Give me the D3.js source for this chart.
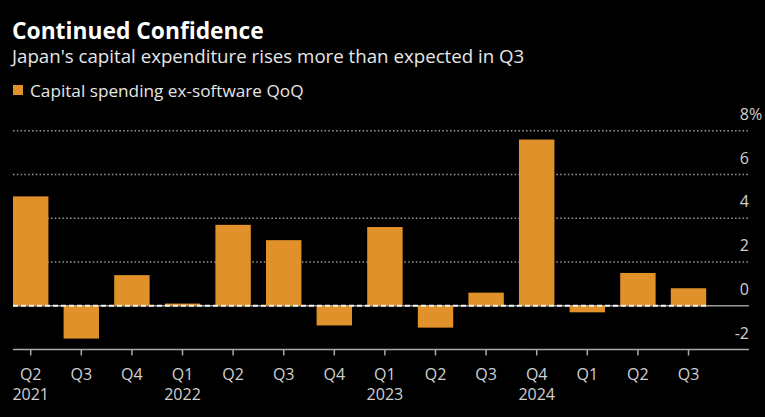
<!DOCTYPE html>
<html>
<head>
<meta charset="utf-8">
<script src="https://cdn.jsdelivr.net/npm/d3@7"></script>
<style>
  html, body { margin: 0; padding: 0; background: #000; }
  svg { display: block; }
  text { font-family: "Open Sans", "Noto Sans", sans-serif; }
</style>
</head>
<body>
<script>
const quarters = ["Q2","Q3","Q4","Q1","Q2","Q3","Q4","Q1","Q2","Q3","Q4","Q1","Q2","Q3"];
const yearLabels = ["2021","","","2022","","","","2023","","","2024","","",""];
const values = [5.0, -1.5, 1.4, 0.1, 3.7, 3.0, -0.9, 3.6, -1.0, 0.6, 7.6, -0.3, 1.5, 0.8];
const yTicks = [-2, 0, 2, 4, 6, 8];
const title = "Continued Confidence";
const subtitle = "Japan's capital expenditure rises more than expected in Q3";
const legendLabel = "Capital spending ex-software QoQ";

const W = 765, H = 417;
const plotLeft = 13, plotRight = 749;
const barColor = "#e0912a";

const svg = d3.select("body").append("svg").attr("width", W).attr("height", H)
  .style("background", "#000");

const idx = values.map((d, i) => i);
const step = 50.6, pad = 0.3;
const x = d3.scaleBand().domain(idx)
  .range([plotLeft, plotLeft + step * (idx.length - pad)])
  .paddingInner(pad).paddingOuter(0);
const y = d3.scaleLinear().domain([-2, 8]).range([349.5, 130.8]);

// Title, subtitle, legend
svg.append("text").attr("x", 12).attr("y", 39).attr("fill", "#fff")
  .attr("font-size", 22.8).attr("font-weight", 700).text(title);
svg.append("text").attr("x", 12).attr("y", 63).attr("fill", "#e6e6e6")
  .attr("font-size", 18.7).text(subtitle);
svg.append("rect").attr("x", 13).attr("y", 85).attr("width", 10).attr("height", 10).attr("fill", barColor);
svg.append("text").attr("x", 30).attr("y", 97).attr("fill", "#e6e6e6")
  .attr("font-size", 17.2).text(legendLabel);

// Gridlines (dotted)
svg.append("g").selectAll("line").data(yTicks.filter(t => t > 0)).join("line")
  .attr("x1", plotLeft).attr("x2", plotRight)
  .attr("y1", d => y(d)).attr("y2", d => y(d))
  .attr("stroke", "#9a9a9a").attr("stroke-width", 1.5).attr("stroke-dasharray", "1.5,2.3");

// Zero solid grey line
svg.append("line").attr("x1", plotLeft).attr("x2", plotRight)
  .attr("y1", y(0)).attr("y2", y(0)).attr("stroke", "#9a9a9a").attr("stroke-width", 1.5);

// Bars
svg.append("g").selectAll("rect").data(values).join("rect")
  .attr("x", (d, i) => x(i)).attr("width", x.bandwidth())
  .attr("y", d => y(Math.max(0, d)))
  .attr("height", d => Math.abs(y(d) - y(0)))
  .attr("fill", barColor);

// Zero dashed white line over bar region
svg.append("line").attr("x1", plotLeft).attr("x2", x(idx.length - 1) + x.bandwidth())
  .attr("y1", y(0)).attr("y2", y(0))
  .attr("stroke", "#f2f2f2").attr("stroke-width", 2).attr("stroke-dasharray", "5,3");

// Y labels (right aligned, % on top)
const yl = svg.append("g");
yTicks.forEach(t => {
  yl.append("text").attr("x", 749).attr("y", y(t) - 11)
    .attr("fill", "#d0d0d0").attr("font-size", 16).attr("text-anchor", "end").text(t);
  if (t === 8) {
    yl.append("text").attr("x", 749).attr("y", y(t) - 11)
      .attr("fill", "#d0d0d0").attr("font-size", 16).text("%");
  }
});

// X axis
const xAxis = d3.axisBottom(x).tickSize(6).tickFormat(() => "");
const gx = svg.append("g").attr("transform", `translate(0,${y(-2)})`).call(xAxis);
gx.select(".domain").remove();
gx.selectAll(".tick line").attr("stroke", "#aaa").attr("stroke-width", 1.5);
svg.append("line").attr("x1", plotLeft).attr("x2", plotRight)
  .attr("y1", y(-2)).attr("y2", y(-2)).attr("stroke", "#aaa").attr("stroke-width", 1.5);

svg.append("g").selectAll("text").data(quarters).join("text")
  .attr("x", (d, i) => x(i) + x.bandwidth() / 2).attr("y", 380)
  .attr("text-anchor", "middle").attr("fill", "#d0d0d0").attr("font-size", 16).text(d => d);
svg.append("g").selectAll("text").data(yearLabels).join("text")
  .attr("x", (d, i) => x(i) + x.bandwidth() / 2).attr("y", 400)
  .attr("text-anchor", "middle").attr("fill", "#d0d0d0").attr("font-size", 16).text(d => d);
</script>
</body>
</html>
